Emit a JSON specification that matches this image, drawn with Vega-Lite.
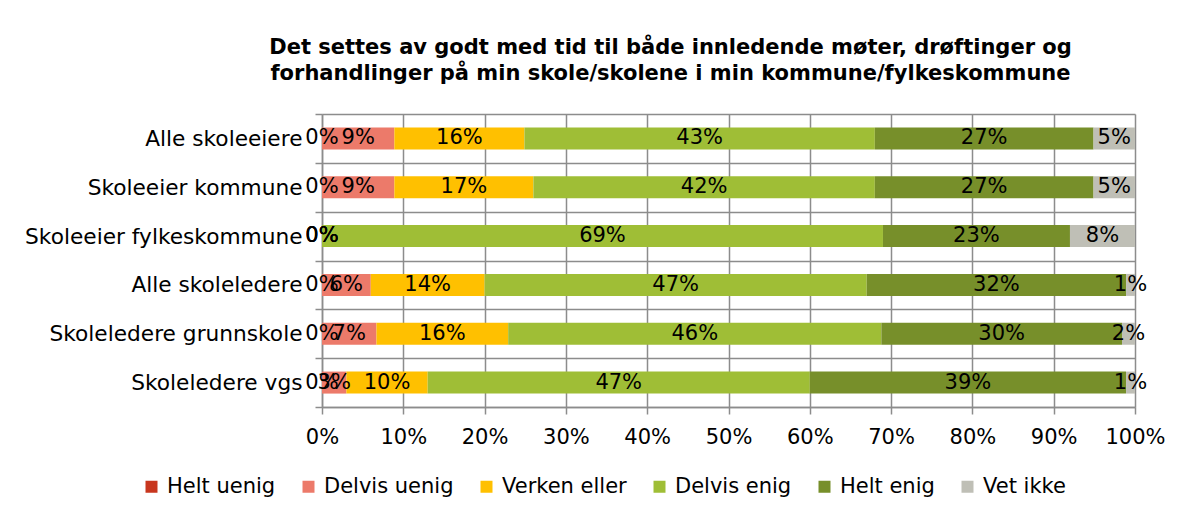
{
  "$schema": "https://vega.github.io/schema/vega-lite/v6.json",
  "autosize": "none",
  "width": 813,
  "height": 293,
  "padding": {"left": 322, "top": 114, "right": 60, "bottom": 108},
  "background": "white",
  "config": {
    "font": "DejaVu Sans",
    "view": {"stroke": null},
    "axis": {"labelFont": "DejaVu Sans", "labelColor": "#000000", "labelFontSize": 21, "gridColor": "#8c8c8c", "gridWidth": 1.5, "domainColor": "#8c8c8c", "domainWidth": 1.5, "tickColor": "#8c8c8c", "tickWidth": 1.5, "tickSize": 7}
  },
  "title": {
    "text": ["Det settes av godt med tid til både innledende møter, drøftinger og", "forhandlinger på min skole/skolene i min kommune/fylkeskommune"],
    "font": "DejaVu Sans",
    "fontSize": 21,
    "fontWeight": "bold",
    "color": "#000000",
    "lineHeight": 26,
    "anchor": "middle",
    "frame": "group",
    "dx": -58,
    "offset": 20
  },
  "data": {
    "values": [
      {"grp": "Alle skoleeiere", "cat": "Helt uenig", "k": 1, "v": 0.0},
      {"grp": "Alle skoleeiere", "cat": "Delvis uenig", "k": 2, "v": 0.089},
      {"grp": "Alle skoleeiere", "cat": "Verken eller", "k": 3, "v": 0.160},
      {"grp": "Alle skoleeiere", "cat": "Delvis enig", "k": 4, "v": 0.431},
      {"grp": "Alle skoleeiere", "cat": "Helt enig", "k": 5, "v": 0.269},
      {"grp": "Alle skoleeiere", "cat": "Vet ikke", "k": 6, "v": 0.051},
      {"grp": "Skoleeier kommune", "cat": "Helt uenig", "k": 1, "v": 0.0},
      {"grp": "Skoleeier kommune", "cat": "Delvis uenig", "k": 2, "v": 0.089},
      {"grp": "Skoleeier kommune", "cat": "Verken eller", "k": 3, "v": 0.171},
      {"grp": "Skoleeier kommune", "cat": "Delvis enig", "k": 4, "v": 0.420},
      {"grp": "Skoleeier kommune", "cat": "Helt enig", "k": 5, "v": 0.269},
      {"grp": "Skoleeier kommune", "cat": "Vet ikke", "k": 6, "v": 0.051},
      {"grp": "Skoleeier fylkeskommune", "cat": "Helt uenig", "k": 1, "v": 0.0},
      {"grp": "Skoleeier fylkeskommune", "cat": "Delvis uenig", "k": 2, "v": 0.0},
      {"grp": "Skoleeier fylkeskommune", "cat": "Verken eller", "k": 3, "v": 0.0},
      {"grp": "Skoleeier fylkeskommune", "cat": "Delvis enig", "k": 4, "v": 0.690},
      {"grp": "Skoleeier fylkeskommune", "cat": "Helt enig", "k": 5, "v": 0.230},
      {"grp": "Skoleeier fylkeskommune", "cat": "Vet ikke", "k": 6, "v": 0.080},
      {"grp": "Alle skoleledere", "cat": "Helt uenig", "k": 1, "v": 0.0},
      {"grp": "Alle skoleledere", "cat": "Delvis uenig", "k": 2, "v": 0.060},
      {"grp": "Alle skoleledere", "cat": "Verken eller", "k": 3, "v": 0.140},
      {"grp": "Alle skoleledere", "cat": "Delvis enig", "k": 4, "v": 0.470},
      {"grp": "Alle skoleledere", "cat": "Helt enig", "k": 5, "v": 0.319},
      {"grp": "Alle skoleledere", "cat": "Vet ikke", "k": 6, "v": 0.011},
      {"grp": "Skoleledere grunnskole", "cat": "Helt uenig", "k": 1, "v": 0.0},
      {"grp": "Skoleledere grunnskole", "cat": "Delvis uenig", "k": 2, "v": 0.067},
      {"grp": "Skoleledere grunnskole", "cat": "Verken eller", "k": 3, "v": 0.162},
      {"grp": "Skoleledere grunnskole", "cat": "Delvis enig", "k": 4, "v": 0.459},
      {"grp": "Skoleledere grunnskole", "cat": "Helt enig", "k": 5, "v": 0.296},
      {"grp": "Skoleledere grunnskole", "cat": "Vet ikke", "k": 6, "v": 0.016},
      {"grp": "Skoleledere vgs", "cat": "Helt uenig", "k": 1, "v": 0.0},
      {"grp": "Skoleledere vgs", "cat": "Delvis uenig", "k": 2, "v": 0.030},
      {"grp": "Skoleledere vgs", "cat": "Verken eller", "k": 3, "v": 0.100},
      {"grp": "Skoleledere vgs", "cat": "Delvis enig", "k": 4, "v": 0.470},
      {"grp": "Skoleledere vgs", "cat": "Helt enig", "k": 5, "v": 0.389},
      {"grp": "Skoleledere vgs", "cat": "Vet ikke", "k": 6, "v": 0.011}
    ]
  },
  "encoding": {
    "y": {
      "field": "grp",
      "type": "nominal",
      "sort": null,
      "title": null,
      "scale": {"paddingInner": 0, "paddingOuter": 0},
      "axis": {"grid": true, "tickBand": "extent", "labelPadding": 13, "labelLimit": 400, "labelFontSize": 21.7}
    },
    "order": {"field": "k", "type": "quantitative"}
  },
  "layer": [
    {
      "mark": {"type": "bar", "size": 22},
      "encoding": {
        "x": {
          "field": "v",
          "type": "quantitative",
          "stack": "zero",
          "title": null,
          "scale": {"domain": [0, 1], "nice": false},
          "axis": {"values": [0, 0.1, 0.2, 0.3, 0.4, 0.5, 0.6, 0.7, 0.8, 0.9, 1], "format": ".0%", "grid": true, "labelPadding": 12, "labelFlush": false}
        },
        "color": {
          "field": "cat",
          "type": "nominal",
          "title": null,
          "scale": {
            "domain": ["Helt uenig", "Delvis uenig", "Verken eller", "Delvis enig", "Helt enig", "Vet ikke"],
            "range": ["#C8361E", "#EC7A6A", "#FFC000", "#9FBE36", "#778F2A", "#BFBFB6"]
          },
          "legend": {
            "orient": "none",
            "direction": "horizontal",
            "legendX": -181,
            "legendY": 362,
            "symbolType": "square",
            "symbolSize": 144,
            "symbolStrokeWidth": 0,
            "symbolOpacity": 1,
            "labelFont": "DejaVu Sans",
            "labelFontSize": 21,
            "labelColor": "#000000",
            "labelOffset": 5,
            "columnPadding": 22,
            "labelLimit": 300
          }
        }
      }
    },
    {
      "mark": {"type": "text", "fontSize": 21, "color": "#000000", "baseline": "middle", "align": "center"},
      "encoding": {
        "x": {"field": "v", "type": "quantitative", "stack": "zero", "bandPosition": 0.5},
        "detail": {"field": "cat", "type": "nominal"},
        "text": {"field": "v", "type": "quantitative", "format": ".0%"}
      }
    }
  ]
}
